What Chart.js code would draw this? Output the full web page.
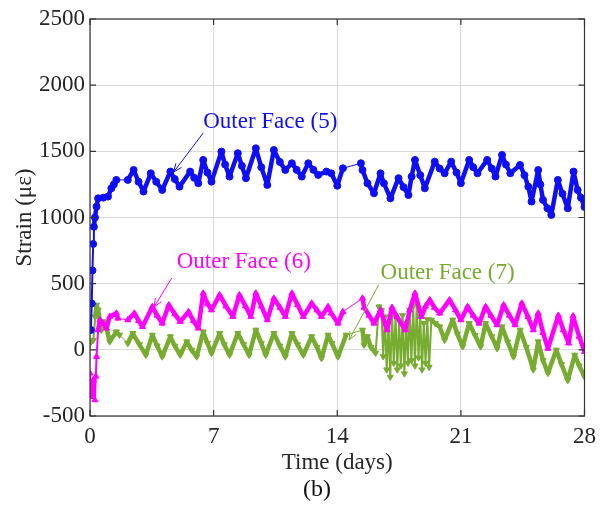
<!DOCTYPE html>
<html>
<head>
<meta charset="utf-8">
<script src="https://cdn.jsdelivr.net/npm/chart.js@4.4.1/dist/chart.umd.min.js"></script>
<style>
  body { margin: 0; background: #fff; }
</style>
</head>
<body>
<canvas id="strain-chart" width="603" height="510"></canvas>
<script>
const xTicks = [0, 7, 14, 21, 28];
const yTicks = [-500, 0, 500, 1000, 1500, 2000, 2500];

const blueDays = [0.05, 0.1, 0.14, 0.18, 0.22, 0.28, 0.37, 0.46, 0.75, 1.02, 1.21, 1.35, 1.49, 2.14, 2.47, 2.75, 3.03, 3.44, 3.75, 4.09, 4.55, 4.8, 5.07, 5.67, 5.9, 6.13, 6.41, 6.65, 6.88, 7.44, 7.65, 7.9, 8.37, 8.6, 8.83, 9.39, 9.7, 10.04, 10.41, 10.75, 11.06, 11.43, 11.7, 11.99, 12.36, 12.65, 12.92, 13.39, 13.66, 14.0, 14.32, 15.34, 15.43, 15.71, 16.08, 16.45, 16.64, 17.01, 17.47, 17.75, 18.03, 18.21, 18.4, 18.7, 18.96, 19.52, 19.8, 20.08, 20.45, 20.75, 21.0, 21.47, 21.7, 21.94, 22.49, 22.75, 22.96, 23.33, 23.55, 23.8, 24.35, 24.6, 24.82, 25.0, 25.38, 25.5, 25.65, 25.9, 26.12, 26.49, 26.75, 27.05, 27.38, 27.61, 27.8, 28.0];
const blueStrain = [150, 350, 600, 800, 930, 1000, 1082, 1145, 1150, 1158, 1221, 1250, 1284, 1284, 1359, 1270, 1196, 1334, 1270, 1208, 1347, 1290, 1233, 1347, 1300, 1259, 1435, 1340, 1271, 1498, 1400, 1309, 1486, 1390, 1297, 1523, 1380, 1246, 1510, 1420, 1359, 1410, 1360, 1309, 1410, 1360, 1322, 1347, 1334, 1240, 1372, 1410, 1359, 1259, 1183, 1334, 1259, 1145, 1297, 1230, 1170, 1309, 1435, 1320, 1221, 1422, 1370, 1334, 1422, 1340, 1259, 1435, 1380, 1334, 1435, 1370, 1309, 1473, 1400, 1334, 1397, 1320, 1233, 1120, 1359, 1250, 1133, 1070, 1019, 1284, 1180, 1070, 1347, 1208, 1150, 1080];

const magentaDays = [0.0, 0.09, 0.19, 0.28, 0.33, 0.37, 0.46, 0.56, 0.74, 0.93, 1.12, 1.49, 1.58, 2.14, 2.51, 2.75, 2.97, 3.53, 3.8, 4.09, 4.46, 4.8, 5.11, 5.58, 5.85, 6.13, 6.41, 6.65, 6.88, 7.34, 7.7, 8.09, 8.46, 8.8, 9.11, 9.39, 9.7, 10.04, 10.41, 10.75, 11.06, 11.43, 11.75, 12.08, 12.55, 12.85, 13.11, 13.48, 13.66, 14.04, 14.32, 15.43, 15.52, 15.8, 16.08, 16.45, 16.82, 17.1, 17.38, 17.85, 18.1, 18.4, 18.77, 19.0, 19.24, 19.5, 19.8, 20.36, 20.7, 21.0, 21.38, 21.7, 22.03, 22.4, 22.7, 23.05, 23.42, 23.75, 24.07, 24.45, 24.8, 25.1, 25.38, 25.65, 25.93, 26.52, 26.8, 27.1, 27.35, 27.7, 28.0];
const magentaStrain = [-177, -354, -228, -379, -200, -52, 150, 226, 200, 163, 251, 276, 238, 226, 276, 220, 175, 326, 260, 200, 339, 270, 213, 288, 220, 163, 427, 350, 301, 415, 330, 251, 415, 330, 251, 427, 330, 226, 389, 320, 251, 427, 340, 251, 352, 300, 251, 326, 276, 200, 288, 390, 320, 260, 200, 300, 150, 320, 250, 150, 300, 427, 251, 330, 377, 320, 276, 377, 300, 226, 326, 260, 200, 326, 260, 188, 339, 260, 188, 352, 250, 150, 276, 130, 10, 260, 150, 50, 255, 100, -14];

const greenDays = [0.0, 0.19, 0.3, 0.37, 0.46, 0.65, 0.84, 1.12, 1.49, 1.67, 2.14, 2.42, 2.8, 3.16, 3.53, 3.8, 4.09, 4.55, 4.8, 5.11, 5.48, 5.75, 6.04, 6.41, 6.65, 6.88, 7.34, 7.6, 7.9, 8.37, 8.7, 9.01, 9.39, 9.7, 9.95, 10.41, 10.75, 11.06, 11.43, 11.75, 12.08, 12.55, 12.85, 13.11, 13.48, 13.7, 14.04, 14.5, 15.43, 15.52, 15.71, 15.9, 16.17, 16.36, 16.5, 16.6, 16.7, 16.8, 16.9, 17.0, 17.1, 17.2, 17.3, 17.4, 17.5, 17.6, 17.7, 17.8, 17.9, 18.0, 18.1, 18.2, 18.3, 18.4, 18.5, 18.6, 18.7, 18.8, 18.9, 19.0, 19.1, 19.2, 19.33, 19.55, 19.8, 20.08, 20.54, 20.8, 21.1, 21.47, 21.8, 22.12, 22.4, 22.75, 23.05, 23.33, 23.65, 23.98, 24.35, 24.7, 25.1, 25.38, 25.65, 25.93, 26.4, 26.7, 27.05, 27.45, 27.7, 28.0];
const greenStrain = [50, 74, 250, 339, 301, 150, 213, 62, 137, 112, 50, 125, 40, -39, 112, 30, -52, 100, 30, -39, 62, 0, -52, 137, 50, -26, 125, 40, -39, 125, 40, -39, 150, 50, -39, 125, 30, -52, 125, 40, -39, 100, 20, -64, 112, 50, -52, 112, 150, 37, 100, 20, -24, 326, 300, -50, 250, -150, 200, -205, 280, -100, 250, -150, 220, -120, 260, -180, 200, -100, 300, -80, 330, -120, 350, -60, 250, -150, 200, -100, 230, -130, 226, 200, 175, 74, 226, 120, 24, 200, 110, 24, 200, 100, 11, 175, 60, -52, 150, 20, -150, 62, -80, -177, -1, -110, -230, -39, -120, -203];

// data gaps bridged by a thin line
const gapDays = [1.9, 15.0];

const blue = "rgb(15, 15, 245)";
const magenta = "rgb(255, 0, 255)";
const green = "rgb(119, 172, 48)";
const textColor = "#262626";
const serif = "'Liberation Serif', 'Times New Roman', serif";

const labels = [
  { text: "Outer Face (5)", color: blue, at: [6.41, 1722], from: [6.41, 1639], to: [4.74, 1344] },
  { text: "Outer Face (6)", color: magenta, at: [4.91, 664], from: [4.63, 543], to: [3.63, 324] },
  { text: "Outer Face (7)", color: green, at: [16.45, 581], from: [16.34, 490], to: [14.67, 74] },
];

function toPoints(days, values) {
  return days.map((d, i) => ({ x: d, y: values[i] }));
}

function segWidth(ctx) {
  const a = ctx.p0.parsed.x, b = ctx.p1.parsed.x;
  if (gapDays.some((g) => a < g && b > g)) return 1;
  const slope = Math.abs(ctx.p1.parsed.y - ctx.p0.parsed.y) / (b - a);
  return slope > 1500 ? 2 : 4.5;
}

function series(label, days, values, color, style, rot) {
  return {
    label: label,
    data: toPoints(days, values),
    borderColor: color,
    backgroundColor: color,
    borderWidth: 4.5,
    borderJoinStyle: "round",
    borderCapStyle: "round",
    pointStyle: style,
    rotation: rot,
    pointRadius: 3.5,
    pointBorderWidth: 1,
    segment: { borderWidth: segWidth },
  };
}

const frame = {
  id: "frame",
  afterDatasetsDraw(chart) {
    const { ctx, chartArea: a, scales } = chart;
    const x = scales.x, y = scales.y;
    ctx.save();
    ctx.strokeStyle = "#333";
    ctx.lineWidth = 1.2;
    ctx.beginPath();
    xTicks.forEach((v) => {
      const px = x.getPixelForValue(v);
      ctx.moveTo(px, a.bottom); ctx.lineTo(px, a.bottom - 6);
      ctx.moveTo(px, a.top); ctx.lineTo(px, a.top + 6);
    });
    yTicks.forEach((v) => {
      const py = y.getPixelForValue(v);
      ctx.moveTo(a.left, py); ctx.lineTo(a.left + 6, py);
      ctx.moveTo(a.right, py); ctx.lineTo(a.right - 6, py);
    });
    ctx.stroke();
    ctx.strokeRect(a.left, a.top, a.right - a.left, a.bottom - a.top);

    // annotations with arrows
    labels.forEach((l) => {
      const tx = x.getPixelForValue(l.at[0]), ty = y.getPixelForValue(l.at[1]);
      ctx.fillStyle = l.color;
      ctx.font = "23px " + serif;
      ctx.textAlign = "left";
      ctx.textBaseline = "middle";
      ctx.fillText(l.text, tx, ty);
      const x0 = x.getPixelForValue(l.from[0]), y0 = y.getPixelForValue(l.from[1]);
      const x1 = x.getPixelForValue(l.to[0]), y1 = y.getPixelForValue(l.to[1]);
      ctx.strokeStyle = l.color;
      ctx.lineWidth = 1;
      ctx.beginPath();
      ctx.moveTo(x0, y0); ctx.lineTo(x1, y1);
      const ang = Math.atan2(y1 - y0, x1 - x0);
      ctx.moveTo(x1, y1); ctx.lineTo(x1 - 9 * Math.cos(ang - 0.4), y1 - 9 * Math.sin(ang - 0.4));
      ctx.moveTo(x1, y1); ctx.lineTo(x1 - 9 * Math.cos(ang + 0.4), y1 - 9 * Math.sin(ang + 0.4));
      ctx.stroke();
    });

    ctx.fillStyle = "#111";
    ctx.font = "24px " + serif;
    ctx.textAlign = "center";
    ctx.fillText("(b)", 317, 490);
    ctx.restore();
  },
};

const tickFont = { family: serif, size: 23 };

new Chart(document.getElementById("strain-chart").getContext("2d"), {
  type: "line",
  data: {
    datasets: [
      series("Outer Face (5)", blueDays, blueStrain, blue, "circle", 0),
      series("Outer Face (6)", magentaDays, magentaStrain, magenta, "triangle", 0),
      series("Outer Face (7)", greenDays, greenStrain, green, "triangle", 180),
    ],
  },
  options: {
    responsive: false,
    animation: false,
    layout: { padding: { top: 19, right: 11, left: 0, bottom: 0 } },
    plugins: { legend: { display: false }, tooltip: { enabled: false } },
    scales: {
      x: {
        type: "linear",
        min: 0,
        max: 28,
        afterBuildTicks: (s) => { s.ticks = xTicks.map((v) => ({ value: v })); },
        afterFit: (s) => { s.height = 94; },
        ticks: { font: tickFont, color: textColor, padding: 7, maxRotation: 0, callback: (v) => String(v) },
        grid: { color: "#dadada", tickLength: 0 },
        border: { display: false },
        title: { display: true, text: "Time (days)", font: tickFont, color: textColor, padding: { top: 0, bottom: 33 } },
      },
      y: {
        min: -500,
        max: 2500,
        afterBuildTicks: (s) => { s.ticks = yTicks.map((v) => ({ value: v })); },
        afterFit: (s) => { s.width = 90; },
        ticks: { font: tickFont, color: textColor, padding: 5, callback: (v) => String(v) },
        grid: { color: "#dadada", tickLength: 0 },
        border: { display: false },
        title: { display: true, text: "Strain (με)", font: tickFont, color: textColor, padding: { top: 11, bottom: 0 } },
      },
    },
  },
  plugins: [frame],
});
</script>
</body>
</html>
